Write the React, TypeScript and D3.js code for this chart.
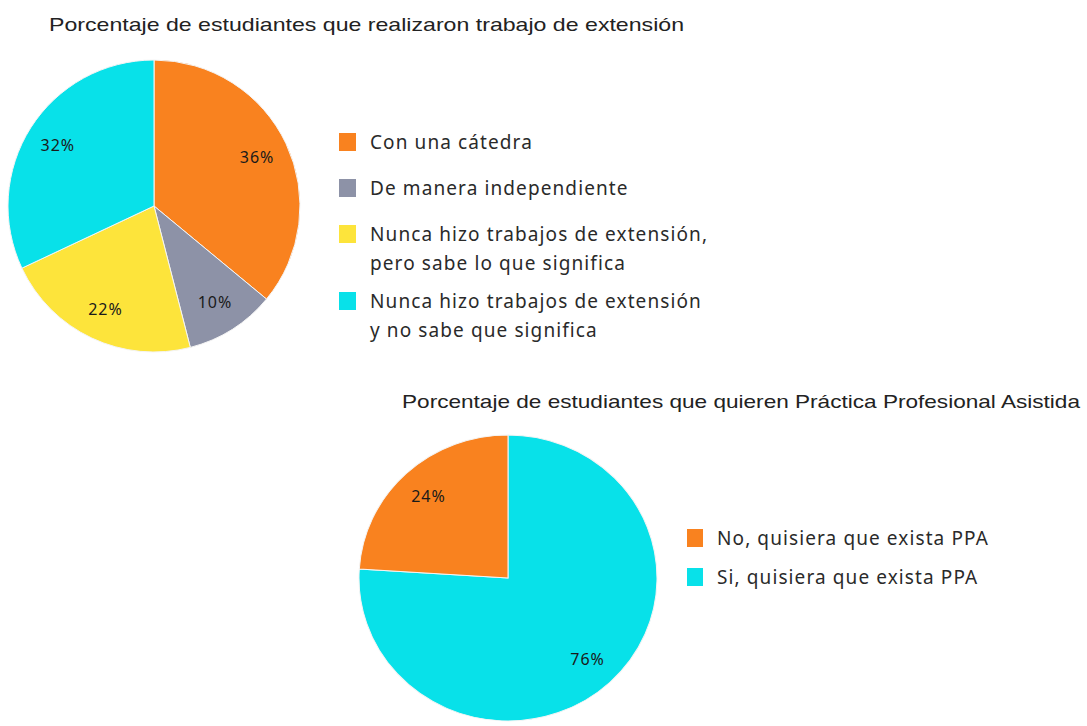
import React from "react";
import * as d3 from "d3";

const cats1 = [
  "Con una cátedra",
  "De manera independiente",
  "Nunca hizo trabajos de extensión, pero sabe lo que significa",
  "Nunca hizo trabajos de extensión y no sabe que significa",
];
const vals1 = [36, 10, 22, 32];
const colors1 = ["#F9821F", "#8D92A7", "#FDE43B", "#08E1E9"];
const legend1Lines = [
  ["Con una cátedra"],
  ["De manera independiente"],
  ["Nunca hizo trabajos de extensión,", "pero sabe lo que significa"],
  ["Nunca hizo trabajos de extensión", "y no sabe que significa"],
];
const title1 = "Porcentaje de estudiantes que realizaron trabajo de extensión";

const cats2 = ["Si, quisiera que exista PPA", "No, quisiera que exista PPA"];
const vals2 = [76, 24];
const colors2 = ["#08E1E9", "#F9821F"];
const legend2 = ["No, quisiera que exista PPA", "Si, quisiera que exista PPA"];
const legend2Colors = ["#F9821F", "#08E1E9"];
const title2 = "Porcentaje de estudiantes que quieren Práctica Profesional Asistida";

const labelFont = "'Noto Sans', 'Open Sans', sans-serif";
const titleFont = "'Liberation Sans', Arial, sans-serif";

export default function App() {
  const pie = d3.pie<number>().sort(null).value((d) => d);

  // Pie 1
  const cx1 = 154, cy1 = 206, r1 = 146;
  const arcs1 = pie(vals1);
  const arc1 = d3.arc<d3.PieArcDatum<number>>().innerRadius(0).outerRadius(r1);
  const lab1 = d3.arc<d3.PieArcDatum<number>>().innerRadius(r1 * 0.78).outerRadius(r1 * 0.78);

  // Pie 2 (slightly elliptical)
  const cx2 = 508, cy2 = 578, r2 = 143, sx2 = 149 / 143;
  const arcs2 = pie(vals2);
  const arc2 = d3.arc<d3.PieArcDatum<number>>().innerRadius(0).outerRadius(r2);
  const lab2 = d3.arc<d3.PieArcDatum<number>>().innerRadius(r2 * 0.78).outerRadius(r2 * 0.78);

  const legend1Y = [142, 188, 234, 301];
  const lineGap = 29;

  return (
    <svg width={1087} height={726} style={{ position: "absolute", left: 0, top: 0, background: "#fff" }}>
      <rect width={1087} height={726} fill="#fff" />
      <text x={49} y={31} fontFamily={titleFont} fontSize={19} fill="#222" textLength={635} lengthAdjust="spacingAndGlyphs">
        {title1}
      </text>
      <g transform={`translate(${cx1},${cy1})`}>
        {arcs1.map((a, i) => (
          <path key={cats1[i]} d={arc1(a) || ""} fill={colors1[i]} stroke="#f4f4f4" strokeWidth={1} />
        ))}
        {arcs1.map((a, i) => {
          const [x, y] = lab1.centroid(a);
          return (
            <text key={"l" + i} x={x} y={y} dy="0.35em" textAnchor="middle" fontFamily={labelFont} fontSize={16} letterSpacing={1} fill="#1a1a1a">
              {vals1[i]}%
            </text>
          );
        })}
      </g>
      {legend1Lines.map((lines, i) => (
        <g key={"lg1" + i}>
          <rect x={339} y={legend1Y[i] - 9} width={17} height={18} fill={colors1[i]} />
          {lines.map((ln, j) => (
            <text key={j} x={370} y={legend1Y[i] + j * lineGap} dy="0.35em" fontFamily={labelFont} fontSize={19} letterSpacing={1.1} fill="#2a2a2a">
              {ln}
            </text>
          ))}
        </g>
      ))}

      <text x={402} y={408} fontFamily={titleFont} fontSize={19} fill="#222" textLength={678} lengthAdjust="spacingAndGlyphs">
        {title2}
      </text>
      <g transform={`translate(${cx2},${cy2})`}>
        <g transform={`scale(${sx2},1)`}>
          {arcs2.map((a, i) => (
            <path key={cats2[i]} d={arc2(a) || ""} fill={colors2[i]} stroke="#f4f4f4" strokeWidth={1} />
          ))}
        </g>
        {arcs2.map((a, i) => {
          const [x, y] = lab2.centroid(a);
          return (
            <text key={"l2" + i} x={x * sx2} y={y} dy="0.35em" textAnchor="middle" fontFamily={labelFont} fontSize={16} letterSpacing={1} fill="#1a1a1a">
              {vals2[i]}%
            </text>
          );
        })}
      </g>
      {legend2.map((t, i) => (
        <g key={"lg2" + i}>
          <rect x={687} y={538 + i * 39 - 9} width={16} height={18} fill={legend2Colors[i]} />
          <text x={717} y={538 + i * 39} dy="0.35em" fontFamily={labelFont} fontSize={19} letterSpacing={1.1} fill="#2a2a2a">
            {t}
          </text>
        </g>
      ))}
    </svg>
  );
}
